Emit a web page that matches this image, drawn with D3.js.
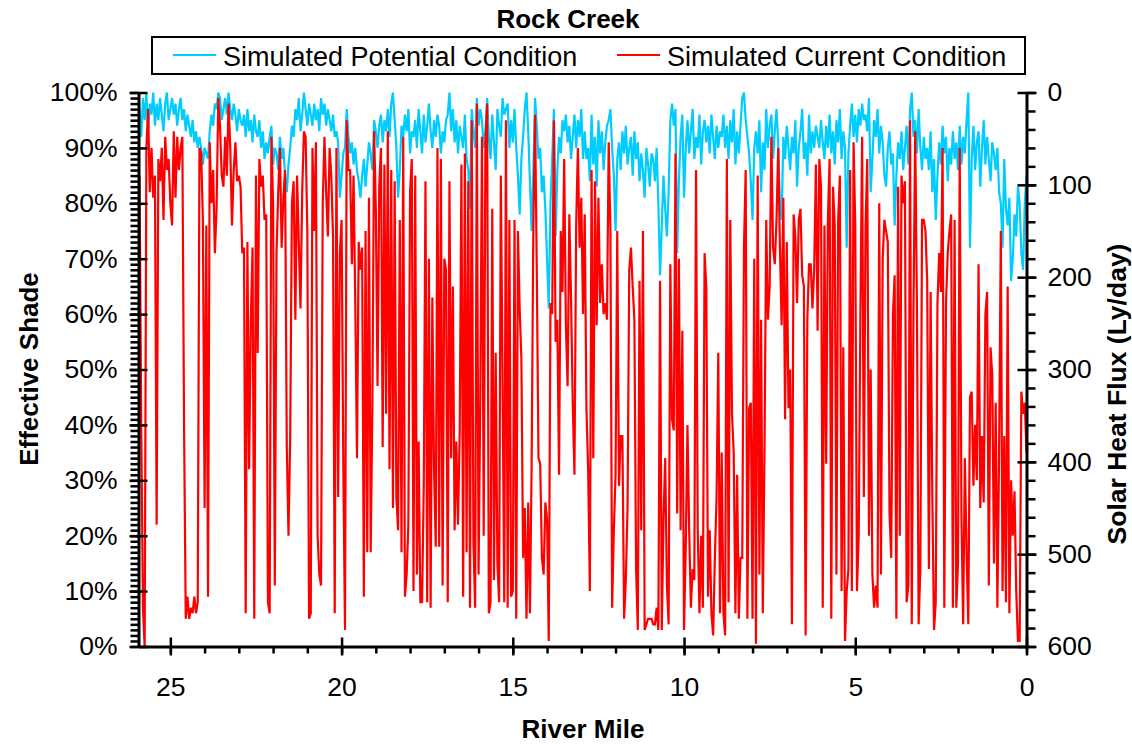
<!DOCTYPE html>
<html>
<head>
<meta charset="utf-8">
<script src="https://cdn.jsdelivr.net/npm/d3@7"></script>
<style>
  body { margin: 0; background: #fff; }
  svg { display: block; font-family: "Liberation Sans", Arial, sans-serif; }
</style>
</head>
<body>
<svg id="chart" width="1132" height="744"></svg>
<script>
// river mile runs 25.90 -> 0.00 every 0.05 mi (519 stations)
var MILE_START = 25.9, MILE_STEP = 0.05;

// effective shade (%), simulated potential condition
var potentialShade = [
  97,92,99,95,100,93,98,96,100,94,98,95,99,96,93,98,100,95,97,99,   // 25.90-24.95
  96,98,94,97,99,95,97,93,96,94,92,95,91,93,90,92,90,87,90,89,
  88,93,96,94,98,97,100,99,95,97,99,96,100,97,95,98,96,93,97,95,
  94,96,92,97,93,95,91,96,93,92,95,90,93,88,91,89,92,94,87,90,
  89,86,92,88,90,85,82,87,90,94,92,97,95,99,93,96,100,97,94,98,
  96,94,98,95,97,93,99,96,98,94,97,95,93,96,92,93,91,81,85,89,   // 20.90-19.95
  90,97,92,89,91,87,90,86,84,81,85,88,83,87,91,89,86,95,93,90,
  94,96,91,95,93,97,92,98,100,95,90,81,86,94,92,96,93,97,89,93,
  92,95,90,97,93,89,96,91,94,98,93,90,95,92,96,94,89,93,91,95,
  96,100,93,97,91,95,89,94,92,90,96,88,86,79,97,93,90,99,94,97,
  95,90,93,99,92,88,96,91,86,97,94,92,99,96,97,98,90,95,91,97,   // 15.90-14.95
  90,85,78,88,92,97,100,93,84,75,86,99,94,88,90,82,85,79,70,61,
  80,88,97,74,86,92,89,95,93,96,91,94,88,92,96,90,95,92,97,88,
  93,88,90,84,96,87,92,83,95,89,93,86,91,94,95,97,90,85,75,88,
  91,86,93,89,94,87,90,92,85,93,88,91,84,89,86,81,90,87,83,89,
  88,84,90,80,67,76,85,79,74,82,95,98,94,97,71,84,92,96,81,90,   // 10.90-9.95
  95,89,93,97,88,92,90,96,87,93,95,91,94,89,96,92,88,94,90,93,
  92,96,90,94,88,95,91,97,87,93,89,94,99,100,95,92,89,84,77,90,
  93,89,95,82,91,86,97,90,94,96,88,93,97,91,80,77,92,88,94,90,
  86,92,89,95,83,90,93,97,88,91,85,96,89,93,90,94,92,90,95,91,
  88,94,90,96,89,93,87,95,91,97,88,93,90,72,89,94,98,92,96,91,   // 5.90-4.95
  97,94,98,95,96,93,99,82,88,95,92,97,89,94,91,85,83,90,93,87,
  89,76,85,91,88,93,86,90,94,87,97,100,92,95,89,97,90,86,92,88,
  90,86,93,82,88,77,85,91,87,94,89,92,84,90,87,93,88,91,86,94,
  87,92,89,95,100,72,88,94,86,91,93,83,90,95,87,92,88,84,91,89,
  86,90,82,80,72,88,79,76,81,66,70,78,74,83,80,71,68,80,85        // 0.90-0.00
];

// effective shade (%), simulated current condition
var currentShade = [
  // 25.90-20.75
  85,40,7,0,90,97,82,90,81,85,22,88,84,90,77,92,86,88,80,76,
  93,81,92,86,90,92,40,5,9,5,7,6,9,6,8,90,89,77,25,76,
  9,91,80,86,71,79,99,94,85,83,92,85,98,90,76,86,91,84,85,83,
  71,72,6,73,32,59,72,5,85,53,88,83,85,77,78,8,6,92,80,11,
  71,82,90,72,81,86,36,20,38,80,84,59,85,73,61,82,93,92,75,5,
  6,90,75,91,
  // 20.70-15.50
  20,13,11,80,92,82,74,90,85,74,6,90,27,71,77,33,3,95,86,86,
  69,85,62,34,73,68,72,9,75,17,81,17,44,93,79,47,83,90,36,87,
  42,93,32,86,25,84,27,21,77,17,92,9,13,22,82,88,10,85,13,37,
  8,8,29,84,8,70,7,63,32,18,90,18,88,11,70,68,8,84,34,65,
  21,37,22,39,87,9,89,17,84,7,95,19,7,98,13,45,92,20,91,98,
  6,8,79,12,53,
  // 15.45-10.20
  15,8,85,49,8,95,7,77,9,10,77,5,75,61,52,16,25,5,26,6,
  33,76,96,68,34,33,16,13,26,23,1,62,60,95,55,59,31,75,64,88,
  58,47,78,63,44,31,76,90,72,81,60,78,43,32,10,86,34,84,58,81,
  62,69,60,62,59,91,75,7,21,31,75,29,38,38,5,12,25,68,72,65,
  59,14,3,66,21,75,3,4,5,5,5,4,4,7,3,66,3,23,34,11,
  4,69,41,39,89,24,
  // 10.15-5.00
  70,21,57,3,18,40,21,7,14,12,86,21,6,20,7,71,65,9,21,6,
  2,16,27,53,6,35,6,2,88,8,77,42,35,6,31,5,16,16,72,86,
  5,43,44,5,70,0.5,85,13,59,6,36,77,59,65,92,72,69,77,90,72,
  58,81,41,73,43,50,4,78,74,62,77,79,67,65,2,59,69,69,61,68,
  87,57,88,83,7,76,33,77,88,5,83,76,13,77,85,10,54,1,10,14,
  86,10,91,76,
  // 4.95-0.00
  10,20,60,92,27,76,88,20,50,13,7,11,7,80,13,70,77,75,73,24,
  16,60,67,5,83,20,85,80,84,8,11,95,4,61,93,62,4,14,77,77,
  75,66,14,64,27,3,8,62,71,64,90,7,62,71,75,78,7,77,7,15,
  90,24,4,34,17,4,45,46,29,40,30,69,25,38,26,60,64,11,54,49,
  15,44,7,35,75,10,38,8,65,6,30,20,28,10,1,1,46,42,44,35
];

var shadeTicks = [0, 10, 20, 30, 40, 50, 60, 70, 80, 90, 100];
var fluxTicks = [0, 100, 200, 300, 400, 500, 600];
var mileTicks = [25, 20, 15, 10, 5, 0];

var TITLE = 'Rock Creek';
var SERIES = [
  { name: 'Simulated Potential Condition', values: potentialShade, color: '#00ccff' },
  { name: 'Simulated Current Condition', values: currentShade, color: '#ff0000' }
];

var FONT = '"Liberation Sans", Arial, sans-serif';
var L = 138.5, R = 1026.5, T = 92.5, B = 646.5;

var svg = d3.select('#chart');
var x = d3.scaleLinear().domain([25.93, 0]).range([L, R]);
var yShade = d3.scaleLinear().domain([0, 100]).range([B, T]);
var yFlux = d3.scaleLinear().domain([600, 0]).range([B, T]);

function mileAt(i) { return MILE_START - i * MILE_STEP; }

// ---- data lines (current drawn over potential) ----
var line = d3.line().x(function (d, i) { return x(mileAt(i)); }).y(function (d) { return yShade(d); });
SERIES.forEach(function (s) {
  svg.append('path').datum(s.values).attr('d', line)
    .attr('fill', 'none').attr('stroke', s.color).attr('stroke-width', 2.2).attr('stroke-linejoin', 'miter');
});

// ---- axes ----
function dress(g, size) {
  g.attr('font-family', FONT).attr('font-size', size || 26);
  g.select('.domain').attr('stroke-width', 3);
  g.selectAll('.tick line').attr('stroke-width', 2.5);
  g.selectAll('.tick text').attr('fill', '#000');
  return g;
}
function minor(g) { g.select('.domain').remove(); g.selectAll('.tick line').attr('stroke-width', 2.5); }

// left: effective shade
svg.append('g').attr('transform', 'translate(' + L + ',0)')
  .call(d3.axisLeft(yShade).tickValues(d3.range(0, 101, 1)).tickSize(8).tickFormat(''))
  .call(minor);
var gl = svg.append('g').attr('transform', 'translate(' + L + ',0)')
  .call(d3.axisLeft(yShade).tickValues(shadeTicks).tickSize(9).tickSizeOuter(0).tickPadding(12)
    .tickFormat(function (d) { return d + '%'; }));
dress(gl, 26.5); gl.selectAll('.tick line').attr('x1', 9);

// right: solar heat flux
svg.append('g').attr('transform', 'translate(' + R + ',0)')
  .call(d3.axisRight(yFlux).tickValues(d3.range(0, 601, 20)).tickSize(9).tickFormat(''))
  .call(minor);
var gr = svg.append('g').attr('transform', 'translate(' + R + ',0)')
  .call(d3.axisRight(yFlux).tickValues(fluxTicks).tickSize(10).tickSizeOuter(0).tickPadding(11));
dress(gr, 26.5); gr.selectAll('.tick line').attr('x1', -9);

// bottom: river mile
svg.append('g').attr('transform', 'translate(0,' + B + ')')
  .call(d3.axisBottom(x).tickValues(d3.range(0, 26, 1)).tickSize(7).tickFormat(''))
  .call(minor);
var gb = svg.append('g').attr('transform', 'translate(0,' + B + ')')
  .call(d3.axisBottom(x).tickValues(mileTicks).tickSize(9).tickSizeOuter(0).tickPadding(22));
dress(gb, 26.5); gb.selectAll('.tick line').attr('y1', -9);

// ---- titles ----
svg.append('text').attr('x', 568).attr('y', 28).attr('text-anchor', 'middle')
  .attr('font-family', FONT).attr('font-size', 26).attr('font-weight', 'bold').text(TITLE);
svg.append('text').attr('x', 583).attr('y', 738).attr('text-anchor', 'middle')
  .attr('font-family', FONT).attr('font-size', 26).attr('font-weight', 'bold').text('River Mile');
svg.append('text').attr('transform', 'translate(38,369) rotate(-90)').attr('text-anchor', 'middle')
  .attr('font-family', FONT).attr('font-size', 26).attr('font-weight', 'bold').text('Effective Shade');
svg.append('text').attr('transform', 'translate(1126,394) rotate(-90)').attr('text-anchor', 'middle')
  .attr('font-family', FONT).attr('font-size', 26.5).attr('font-weight', 'bold').text('Solar Heat Flux (Ly/day)');

// ---- legend ----
svg.append('rect').attr('x', 152).attr('y', 37).attr('width', 873).attr('height', 37)
  .attr('fill', '#fff').attr('stroke', '#000').attr('stroke-width', 2);
var legX = [173, 617];
SERIES.forEach(function (s, i) {
  var g = svg.append('g').attr('transform', 'translate(' + legX[i] + ',0)');
  g.append('line').attr('x1', 0).attr('x2', 43).attr('y1', 55).attr('y2', 55)
    .attr('stroke', s.color).attr('stroke-width', 2.2);
  g.append('text').attr('x', 50).attr('y', 65.5).attr('font-family', FONT).attr('font-size', 27).text(s.name);
});
</script>
</body>
</html>
